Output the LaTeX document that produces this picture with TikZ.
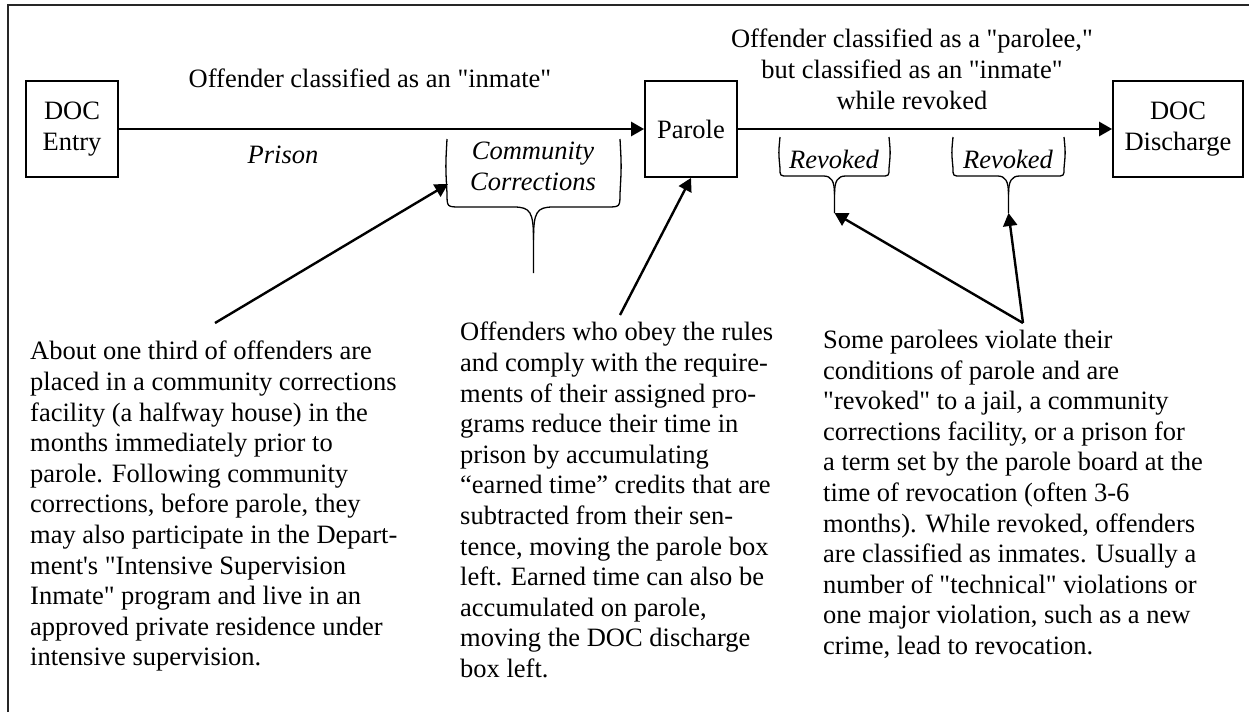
\documentclass[tikz,border=0pt]{standalone}
\usepackage{fontspec}
\newfontfamily\docfont{Liberation Serif}
\usetikzlibrary{arrows.meta}

\newcommand{\docsize}{\fontsize{26.5}{30.6}\selectfont}

% brace opening upwards under a label: name, left x, right x, top y, bar y, tip y
\newcommand{\bracedown}[6]{%
  \pgfmathsetmacro{\xm}{(#2+#3)/2}
  \pgfmathsetmacro{\yc}{(#5+#6)/2}
  \pgfmathsetmacro{\ys}{#4+0.4*(#5-#4)}
  \pgfmathsetmacro{\rr}{0.2*(#5-#4)}
  \pgfmathsetmacro{\ww}{0.3*(#6-#5)}
  \draw[bracestroke] (#2,#4) .. controls (#2-1.5,\ys) .. (#2,#5-\rr) .. controls (#2,#5) .. (#2+\rr,#5)
    -- (\xm-\ww,#5) .. controls (\xm-3,#5) and (\xm,#5+5) .. (\xm,\yc) -- (\xm,#6);
  \draw[bracestroke] (#3,#4) .. controls (#3+1.5,\ys) .. (#3,#5-\rr) .. controls (#3,#5) .. (#3-\rr,#5)
    -- (\xm+\ww,#5) .. controls (\xm+3,#5) and (\xm,#5+5) .. (\xm,\yc);
  \coordinate (#1) at (\xm,#6);
}

\tikzset{
  box/.style={draw, line width=1.8pt, inner sep=0pt, align=center, minimum height=96pt},
  flow/.style={line width=2.6pt, -{Triangle[length=13pt,width=14pt]}},
  pointer/.style={line width=2.4pt, -{Triangle[length=13pt,width=14pt]}},
  bracestroke/.style={line width=1.3pt},
  note/.style={inner sep=0pt, align=left, anchor=north west},
  tag/.style={inner sep=0pt, font=\docfont\itshape\docsize},
}

\begin{document}
\begin{tikzpicture}[x=1pt, y=-1pt, font=\docfont\docsize]
  \useasboundingbox (0,0) rectangle (1249,712);
  \draw[line width=2pt, black!85] (8,712) -- (8,5) -- (1249,5);

  % stages
  \node[box, minimum width=92pt] (entry) at (72,129) {DOC\\Entry};
  \node[box, minimum width=92pt] (parole) at (691,129) {Parole};
  \node[box, minimum width=130pt] (discharge) at (1178,129) {DOC\\Discharge};
  \draw[flow] (entry) -- (parole);
  \draw[flow] (parole) -- (discharge);

  \node[anchor=base, inner sep=0pt] (inmate) at (370,87) {Offender classified as an "inmate"};
  \node[anchor=north, inner sep=0pt, align=center] (parolee) at (912,29)
    {Offender classified as a "parolee,"\\but classified as an "inmate"\\while revoked};

  % labels and braces
  \node[tag, anchor=base] (prison) at (283,163) {Prison};
  \node[tag, anchor=north, align=center] (cc) at (533,142) {Community\\Corrections};
  \node[tag, anchor=base] (rev1) at (834,168) {Revoked};
  \node[tag, anchor=base] (rev2) at (1008,168) {Revoked};
  \bracedown{cc tip}{447}{620}{139}{207}{273}
  \bracedown{rev1 tip}{780}{889}{137}{176}{213}
  \bracedown{rev2 tip}{953}{1064}{137}{176}{213}

  % notes
  \node[note] (left note) at (30,341) {About one third of offenders are\\
    placed in a community corrections\\
    facility (a halfway house) in the\\
    months immediately prior to\\
    parole. Following community\\
    corrections, before parole, they\\
    may also participate in the Depart-\\
    ment's "Intensive Supervision\\
    Inmate" program and live in an\\
    approved private residence under\\
    intensive supervision.};
  \node[note] (mid note) at (460,322) {Offenders who obey the rules\\
    and comply with the require-\\
    ments of their assigned pro-\\
    grams reduce their time in\\
    prison by accumulating\\
    “earned time” credits that are\\
    subtracted from their sen-\\
    tence, moving the parole box\\
    left. Earned time can also be\\
    accumulated on parole,\\
    moving the DOC discharge\\
    box left.};
  \node[note] (right note) at (823,330) {Some parolees violate their\\
    conditions of parole and are\\
    "revoked" to a jail, a community\\
    corrections facility, or a prison for\\
    a term set by the parole board at the\\
    time of revocation (often 3-6\\
    months). While revoked, offenders\\
    are classified as inmates. Usually a\\
    number of "technical" violations or\\
    one major violation, such as a new\\
    crime, lead to revocation.};

  % pointers
  \coordinate (cc side) at (448,184);
  \coordinate (left from) at (215,323);
  \coordinate (mid from) at (620,315);
  \coordinate (right from) at (1023,323);
  \draw[pointer] (left from) -- (cc side);
  \draw[pointer] (mid from) -- (parole.south);
  \draw[pointer] (right from) -- (rev1 tip);
  \draw[pointer] (right from) -- (rev2 tip);
\end{tikzpicture}
\end{document}
